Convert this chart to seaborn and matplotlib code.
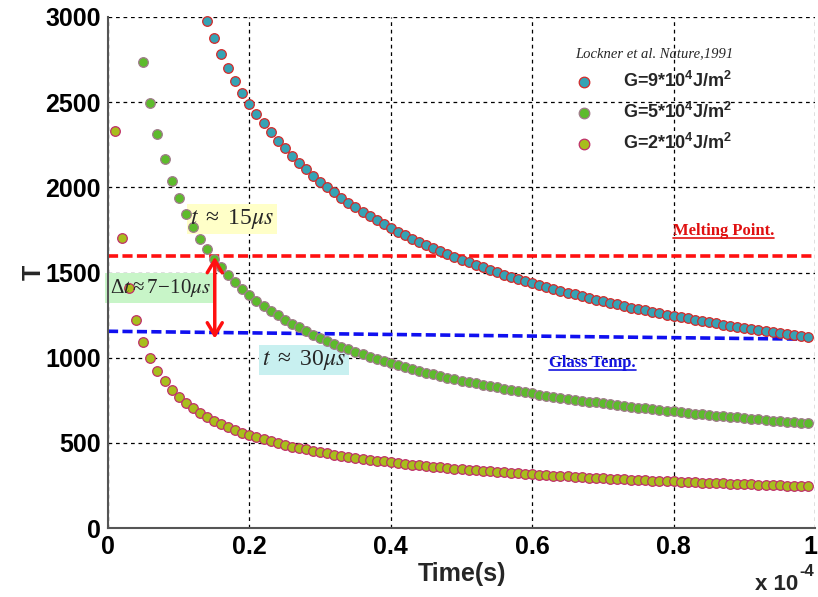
import numpy as np
import pandas as pd
import matplotlib
matplotlib.use("Agg")
import matplotlib.pyplot as plt
import matplotlib.transforms as mtrans
import seaborn as sns
from matplotlib.font_manager import FontProperties
from matplotlib.lines import Line2D

# ---------------- data ----------------
time_e4 = [0.01, 0.02, 0.03, 0.04, 0.05, 0.06, 0.07, 0.08, 0.09, 0.10,
           0.11, 0.12, 0.13, 0.14, 0.15, 0.16, 0.17, 0.18, 0.19, 0.20,
           0.21, 0.22, 0.23, 0.24, 0.25, 0.26, 0.27, 0.28, 0.29, 0.30,
           0.31, 0.32, 0.33, 0.34, 0.35, 0.36, 0.37, 0.38, 0.39, 0.40,
           0.41, 0.42, 0.43, 0.44, 0.45, 0.46, 0.47, 0.48, 0.49, 0.50,
           0.51, 0.52, 0.53, 0.54, 0.55, 0.56, 0.57, 0.58, 0.59, 0.60,
           0.61, 0.62, 0.63, 0.64, 0.65, 0.66, 0.67, 0.68, 0.69, 0.70,
           0.71, 0.72, 0.73, 0.74, 0.75, 0.76, 0.77, 0.78, 0.79, 0.80,
           0.81, 0.82, 0.83, 0.84, 0.85, 0.86, 0.87, 0.88, 0.89, 0.90,
           0.91, 0.92, 0.93, 0.94, 0.95, 0.96, 0.97, 0.98, 0.99]

temp_g9 = [2978, 2876, 2785, 2701, 2626, 2556, 2491, 2431, 2375, 2323,
           2274, 2228, 2185, 2144, 2105, 2069, 2034, 2001, 1970, 1939,
           1910, 1883, 1857, 1831, 1807, 1784, 1761, 1740, 1719, 1699,
           1680, 1661, 1642, 1625, 1608, 1592, 1575, 1560, 1545, 1531,
           1516, 1502, 1488, 1476, 1463, 1450, 1438, 1426, 1415, 1404,
           1393, 1381, 1371, 1361, 1351, 1341, 1331, 1322, 1313, 1303,
           1294, 1287, 1278, 1270, 1261, 1253, 1245, 1238, 1230, 1223,
           1215, 1209, 1201, 1194, 1188, 1181, 1174, 1167, 1162, 1155,
           1149, 1143, 1137, 1131, 1125, 1120]

temp_g5 = [2737, 2498, 2313, 2164, 2040, 1935, 1845, 1767, 1698, 1636,
           1580, 1530, 1484, 1443, 1404, 1368, 1335, 1305, 1276, 1249,
           1224, 1200, 1178, 1157, 1136, 1118, 1099, 1082, 1065, 1050,
           1034, 1020, 1006, 993, 980, 968, 956, 944, 933, 923,
           912, 902, 893, 883, 875, 865, 857, 849, 841, 833,
           825, 818, 811, 804, 797, 790, 783, 777, 771, 765,
           759, 753, 748, 742, 737, 731, 726, 722, 716, 711,
           707, 702, 698, 693, 689, 684, 680, 676, 672, 668,
           664, 660, 656, 652, 649, 645, 641, 638, 635, 631,
           628, 625, 621, 618, 615]

temp_g2 = [2330, 1700, 1409, 1220, 1091, 996, 922, 863, 813, 772,
           736, 704, 677, 652, 630, 610, 592, 575, 560, 546,
           532, 520, 509, 498, 488, 478, 470, 461, 453, 446,
           438, 431, 425, 418, 412, 407, 401, 396, 391, 386,
           381, 376, 372, 368, 364, 360, 356, 352, 349, 345,
           342, 338, 335, 332, 329, 326, 323, 320, 318, 315,
           312, 310, 307, 305, 303, 300, 298, 296, 294, 292,
           290, 288, 285, 284, 282, 280, 278, 276, 275, 273,
           271, 269, 268, 266, 265, 263, 262, 260, 259, 257,
           256, 254, 253, 252, 250, 249, 248, 246, 245]

series_labels = ["G=9*10$^4$J/m$^2$", "G=5*10$^4$J/m$^2$", "G=2*10$^4$J/m$^2$"]
melting_T = 1595
glass_T = [1155, 1108]
xtick_vals = [0, 0.2, 0.4, 0.6, 0.8, 1]
xtick_labels = ["0", "0.2", "0.4", "0.6", "0.8", "1"]
ytick_vals = [0, 500, 1000, 1500, 2000, 2500, 3000]
ytick_labels = ["0", "500", "1000", "1500", "2000", "2500", "3000"]

# ---------------- style ----------------
sns.set_style("white")
plt.rcParams["font.family"] = ["Liberation Sans", "DejaVu Sans"]
plt.rcParams["mathtext.fontset"] = "stix"
plt.rcParams["mathtext.default"] = "regular"

faces = ["#35A3B5", "#5DBB2C", "#A8BE1C"]
edges = ["#D42A2A", "#A07A8A", "#C0306A"]

frames = []
for lab, temps in zip(series_labels, [temp_g9, temp_g5, temp_g2]):
    frames.append(pd.DataFrame({"time": time_e4[-len(temps):], "T": temps, "G": lab}))
df = pd.concat(frames, ignore_index=True)

fig = plt.figure(figsize=(8.18, 5.97), dpi=100)
ax = fig.add_axes([108 / 818, 69 / 597, 707 / 818, 511 / 597])

ax.set_xlim(0, 1)
ax.set_ylim(0, 3000)
ax.grid(True, color="black", ls=(0, (3, 3)), lw=0.9)
ax.set_axisbelow(True)

# reference lines
ax.plot([0, 1], [melting_T, melting_T], color="#FF1010", lw=2.6, ls=(0, (2.8, 1.2)), zorder=2)
ax.plot([0, 1], glass_T, color="#1010F0", lw=2.6, ls=(0, (2.8, 1.2)), zorder=2)

for lab, fc, ec in zip(series_labels, faces, edges):
    sub = df[df["G"] == lab]
    sns.scatterplot(data=sub, x="time", y="T", color=fc, edgecolor=ec, linewidth=0.9,
                    s=48, ax=ax, label=lab, zorder=3, clip_on=False)

# arrow
ax.annotate("", xy=(0.151, 1112), xytext=(0.151, 1592),
            arrowprops=dict(arrowstyle="<->,head_length=0.45,head_width=0.27",
                            color="#FF1010", lw=2.5, shrinkA=0, shrinkB=0,
                            mutation_scale=20), zorder=4)

# annotation boxes (box under the dots, text over them)
serif = "Liberation Serif"
notes = [
    (0.175, 1814, r"$\mathit{t}\ \approx\ 15\mathit{\mu s}$", 17, 0.12, "#FFFFC8"),
    (0.074, 1409, r"$\Delta\mathit{t}\approx7\!-\!10\mathit{\mu s}$", 15, 0.2, "#C8F5C8"),
    (0.277, 986, r"$\mathit{t}\ \approx\ 30\mathit{\mu s}$", 17, 0.12, "#C8F0F0"),
]
for x, y, s, fs, pad, fc in notes:
    ax.text(x, y, s, ha="center", va="center", fontsize=fs, family=serif, color=(0, 0, 0, 0),
            bbox=dict(boxstyle=f"square,pad={pad}", fc=fc, ec="none"), zorder=1.5)
    ax.text(x, y, s, ha="center", va="center", fontsize=fs, family=serif, zorder=5)

t_melt = ax.text(0.871, 1744, "Melting Point.", ha="center", va="center",
                 fontsize=12, color="#E01010", family=serif, fontweight="bold")
t_glass = ax.text(0.685, 969, "Glass Temp.", ha="center", va="center",
                  fontsize=12, color="#1515E0", family=serif, fontweight="bold")

# axes cosmetics
for s in ["top", "right"]:
    ax.spines[s].set_visible(False)
for s in ["left", "bottom"]:
    ax.spines[s].set_color("#555555")
    ax.spines[s].set_linewidth(1.5)
ax.set_xticks(xtick_vals)
ax.set_xticklabels(xtick_labels)
ax.set_yticks(ytick_vals)
ax.set_yticklabels(ytick_labels)
ax.tick_params(direction="in", length=6, width=1.2, color="#555555", labelsize=18,
               labelcolor="black")
ax.tick_params(axis="x", pad=5)
ax.tick_params(axis="y", pad=5)
for lbl in ax.get_xticklabels() + ax.get_yticklabels():
    lbl.set_fontweight("bold")
# keep the last x tick label inside the canvas
last = ax.get_xticklabels()[-1]
last.set_transform(last.get_transform() + mtrans.ScaledTranslation(-5 / 100, 0, fig.dpi_scale_trans))

ax.set_xlabel("Time(s)", fontsize=18, fontweight="bold", labelpad=2)
ax.set_ylabel("T", fontsize=18, fontweight="bold", labelpad=0)

fig.text(798 / 818, 1 - 584 / 597, "x 10", ha="right", va="center", fontsize=16, fontweight="bold")
fig.text(799 / 818, 1 - 572 / 597, "-4", ha="left", va="center", fontsize=12, fontweight="bold")

leg = ax.legend(title="Lockner et al. Nature,1991", frameon=False, loc="upper left",
                bbox_to_anchor=(0.661, 0.941), borderpad=0, borderaxespad=0,
                prop=FontProperties(family=["Liberation Sans", "DejaVu Sans"], weight="bold", size=13),
                title_fontproperties=FontProperties(family=serif, style="italic", size=10.5),
                handlelength=0.8, handletextpad=1.8, labelspacing=0.6, markerscale=1.1)

# underline the two reference-line labels
fig.canvas.draw()
renderer = fig.canvas.get_renderer()
for txt in (t_melt, t_glass):
    bb = txt.get_window_extent(renderer)
    y = bb.y0 + 1
    fig.add_artist(Line2D([bb.x0, bb.x1], [y, y], transform=None,
                          color=txt.get_color(), lw=1.2))

fig.savefig("out.png", dpi=100)
